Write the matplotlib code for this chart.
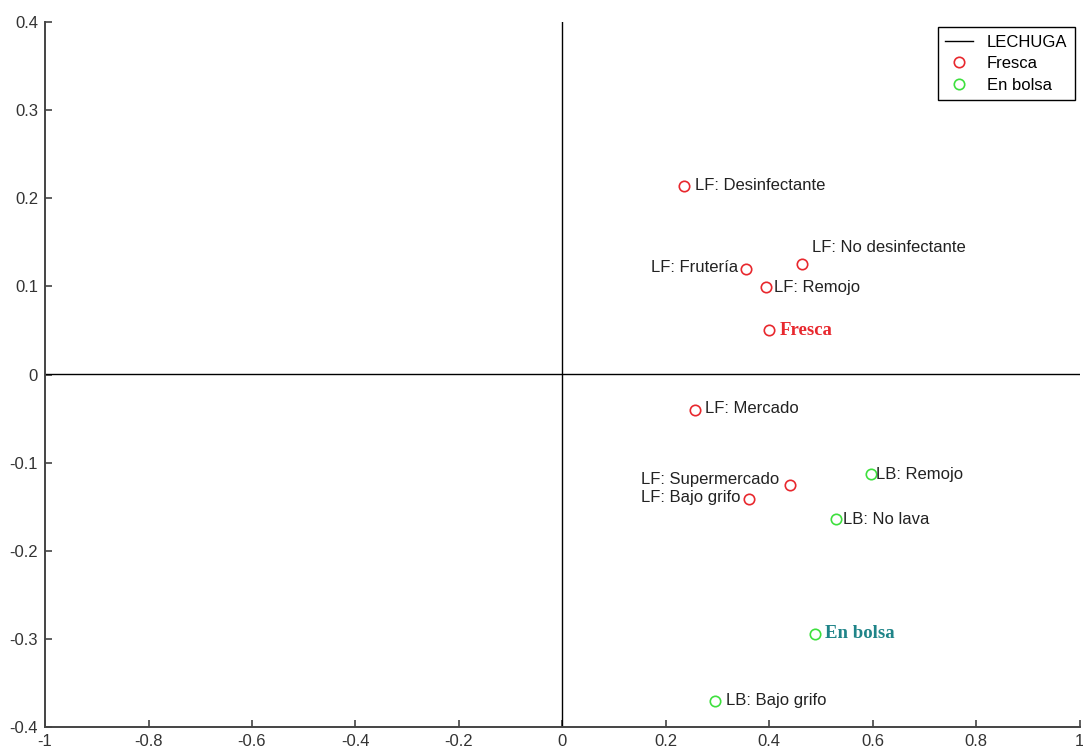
import numpy as np
import matplotlib.pyplot as plt

# Correspondence analysis map: lettuce (fresh vs bagged) and washing habits
fresca_labels = ["LF: Desinfectante", "LF: No desinfectante", "LF: Frutería", "LF: Remojo",
                 "LF: Mercado", "LF: Supermercado", "LF: Bajo grifo"]
fresca_x = [0.235, 0.463, 0.355, 0.393, 0.256, 0.440, 0.360]
fresca_y = [0.214, 0.125, 0.120, 0.099, -0.040, -0.125, -0.141]

bolsa_labels = ["LB: Remojo", "LB: No lava", "LB: Bajo grifo"]
bolsa_x = [0.596, 0.528, 0.295]
bolsa_y = [-0.113, -0.164, -0.371]

# group centroids
centro_labels = ["Fresca", "En bolsa"]
centro_x = [0.399, 0.488]
centro_y = [0.050, -0.294]

plt.rcParams["font.family"] = ["Liberation Sans", "DejaVu Sans"]

fig = plt.figure(figsize=(10.83, 7.49), dpi=100)
ax = fig.add_axes([0.0416, 0.0294, 0.9554, 0.9412])

# axis cross lines
ax.plot([-1, 1], [0, 0], color="black", lw=1.0, label="LECHUGA")
ax.plot([0, 0], [-0.4, 0.4], color="black", lw=1.0)

red = "#e8282e"
green = "#3ee03e"
ax.plot(fresca_x + [centro_x[0]], fresca_y + [centro_y[0]], "o", mfc="none", mec=red,
        ms=7.5, mew=1.2, label="Fresca")
ax.plot(bolsa_x + [centro_x[1]], bolsa_y + [centro_y[1]], "o", mfc="none", mec=green,
        ms=7.5, mew=1.2, label="En bolsa")

# label offsets in points (dx, dy, ha)
offs = {
    "LF: Desinfectante": (8, 0, "left"),
    "LF: No desinfectante": (7, 12, "left"),
    "LF: Frutería": (-6, 1, "right"),
    "LF: Remojo": (6, 0, "left"),
    "LF: Mercado": (7, 1, "left"),
    "LF: Supermercado": (-8, 3.5, "right"),
    "LF: Bajo grifo": (-6, 1, "right"),
    "LB: Remojo": (3.5, 0, "left"),
    "LB: No lava": (5, 0, "left"),
    "LB: Bajo grifo": (8, 1, "left"),
}
for lab, x, y in zip(fresca_labels + bolsa_labels, fresca_x + bolsa_x, fresca_y + bolsa_y):
    dx, dy, ha = offs[lab]
    ax.annotate(lab, (x, y), xytext=(dx, dy), textcoords="offset points",
                ha=ha, va="center", fontsize=12, color="#222222")

for lab, x, y, c in zip(centro_labels, centro_x, centro_y, [red, "#1f8488"]):
    ax.annotate(lab, (x, y), xytext=(7.5, 0), textcoords="offset points",
                ha="left", va="center", fontsize=13.5, fontweight="bold",
                family="Liberation Serif", color=c)

ax.set_xlim(-1, 1)
ax.set_ylim(-0.4, 0.4)
ax.set_xticks(np.arange(-1, 1.01, 0.2))
ax.set_yticks(np.arange(-0.4, 0.41, 0.1))
ax.set_xticklabels(["-1", "-0.8", "-0.6", "-0.4", "-0.2", "0", "0.2", "0.4", "0.6", "0.8", "1"])
ax.set_yticklabels(["-0.4", "-0.3", "-0.2", "-0.1", "0", "0.1", "0.2", "0.3", "0.4"])
ax.tick_params(direction="in", length=5, width=1.2, color="#444444",
               labelsize=12, labelcolor="#333333")
ax.tick_params(axis="x", pad=5)
ax.tick_params(axis="y", pad=5)

for s in ["top", "right"]:
    ax.spines[s].set_visible(False)
for s in ["left", "bottom"]:
    ax.spines[s].set_color("#444444")
    ax.spines[s].set_linewidth(1.4)

leg = ax.legend(loc="upper right", bbox_to_anchor=(1.0, 1.0), borderaxespad=0.3,
                fontsize=12, fancybox=False, edgecolor="black", framealpha=1,
                borderpad=0.45, handlelength=1.7, handletextpad=0.8, labelspacing=0.4)
leg.get_frame().set_linewidth(1.0)

fig.savefig("out.png", dpi=100)
